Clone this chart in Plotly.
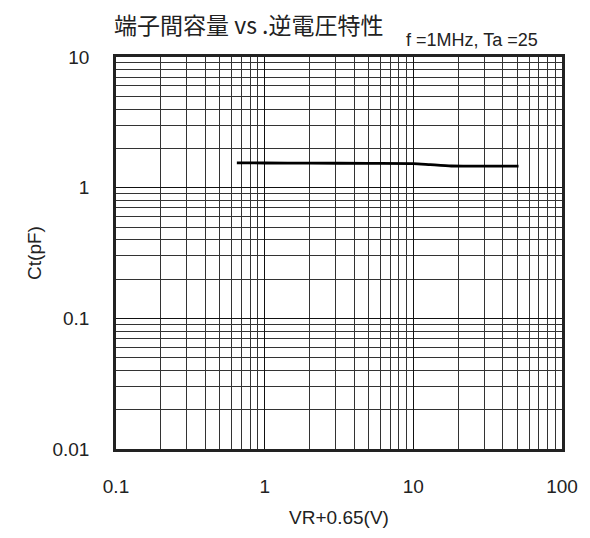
import plotly.graph_objects as go

# Data
vr_plus = [0.65, 1, 2, 5, 10, 13, 18, 25, 35, 51]
ct_pf = [1.55, 1.545, 1.54, 1.535, 1.53, 1.50, 1.465, 1.46, 1.46, 1.46]

x_tickvals = [0.1, 1, 10, 100]
x_ticktext = ["0.1", "1", "10", "100"]
y_tickvals = [0.01, 0.1, 1, 10]
y_ticktext = ["0.01", "0.1", "1", "10"]

title_text = "端子間容量 vs .逆電圧特性"
cond_text = "f =1MHz, Ta =25"
x_title = "VR+0.65(V)"
y_title = "Ct(pF)"

W, H = 582, 530

fig = go.Figure()
fig.add_trace(go.Scatter(
    x=vr_plus, y=ct_pf, mode="lines",
    line=dict(color="black", width=2.8, shape="spline", smoothing=0.6),
    showlegend=False, hoverinfo="skip",
))

axis_common = dict(
    type="log",
    showgrid=True, gridcolor="#111111", gridwidth=1,
    minor=dict(dtick="D1", showgrid=True, gridcolor="#333333", gridwidth=1, ticks=""),
    showline=True, linecolor="#222222", linewidth=2.5, mirror=True,
    ticks="", zeroline=False,
    tickfont=dict(family="Liberation Sans, Arial", size=19, color="#222222"),
    title_font=dict(family="Liberation Sans, Arial", size=19, color="#222222"),
)

fig.update_xaxes(
    **axis_common,
    range=[-1, 2],
    tickvals=x_tickvals, ticktext=x_ticktext,
    ticklabelstandoff=18,
    title_text=x_title, title_standoff=16,
)
fig.update_yaxes(
    **axis_common,
    range=[-2, 1],
    tickvals=y_tickvals, ticktext=y_ticktext,
    ticklabelstandoff=20,
    title_text=y_title, title_standoff=6,
)

fig.update_layout(
    width=W, height=H,
    margin=dict(l=108, r=22, t=49, b=80),
    paper_bgcolor="white", plot_bgcolor="white",
    annotations=[
        dict(
            text=title_text, xref="paper", yref="paper",
            x=-0.01, y=1.085, xanchor="left", yanchor="middle",
            showarrow=False,
            font=dict(family="Noto Sans CJK JP", size=23, color="#222222"),
        ),
        dict(
            text=cond_text, xref="paper", yref="paper",
            x=0.95, y=1.043, xanchor="right", yanchor="middle",
            showarrow=False,
            font=dict(family="Liberation Sans, Arial", size=18, color="#222222"),
        ),
    ],
)

fig.write_html("out.html")
